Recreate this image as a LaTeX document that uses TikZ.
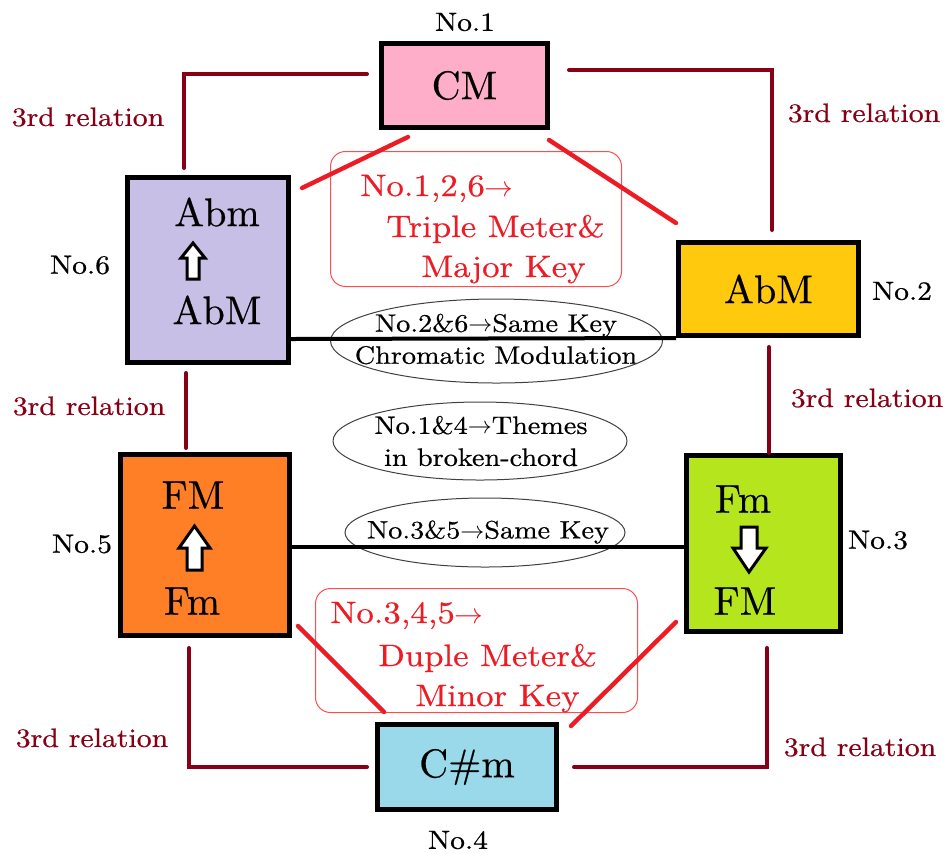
\documentclass[tikz,border=0pt]{standalone}
\usepackage{fontspec}
\newfontfamily\wideserif{lmroman10-regular.otf}[FakeStretch=1.12, FakeBold=0.6]
\newfontfamily\keyserif{lmroman10-regular.otf}[FakeBold=0.5]
\usetikzlibrary{calc}
\definecolor{thirdred}{HTML}{880015}
\definecolor{linkred}{HTML}{ED1C24}
\definecolor{keypink}{HTML}{FFAEC9}
\definecolor{keylilac}{HTML}{C8BFE7}
\definecolor{keygold}{HTML}{FFC90E}
\definecolor{keyorange}{HTML}{FF7F27}
\definecolor{keylime}{HTML}{B5E61D}
\definecolor{keyblue}{HTML}{99D9EA}
\begin{document}
\begin{tikzpicture}[
        x               = 0.5pt,
        y               = -0.5pt,
        key/.style      = {draw, line width=2.5pt, inner sep=0pt, font=\keyserif\fontsize{20}{24}\selectfont},
        keyname/.style  = {inner sep=0pt, font=\keyserif\fontsize{20}{24}\selectfont},
        number/.style   = {inner sep=0pt, font=\wideserif\fontsize{13.2}{16}\selectfont},
        relation/.style = {inner sep=0pt, text=thirdred, font=\wideserif\fontsize{13.3}{16}\selectfont},
        third/.style    = {draw=thirdred, line width=2pt, line cap=round},
        link/.style     = {draw=linkred, line width=2.2pt, line cap=round},
        samekey/.style  = {draw, line width=2pt},
        notebox/.style  = {draw=red!70, line width=0.5pt, rounded corners=7.5pt},
        note/.style     = {inner sep=0pt, anchor=base west, text=linkred, font=\wideserif\fontsize{15.5}{18}\selectfont},
        remark/.style   = {inner sep=0pt, align=center, font=\wideserif\fontsize{12.6}{16}\selectfont},
        ring/.style     = {draw=black!75, line width=0.5pt},
        turn/.style     = {draw, fill=white, line width=1.5pt, line join=miter},
    ]
    \useasboundingbox (0,0) rectangle (946,853);

    % keys
    \node[key, fill=keypink,   minimum width=83pt,   minimum height=42pt]   (cm)  at (464.5,85.5) {CM};
    \node[key, fill=keylilac,  minimum width=80.5pt, minimum height=92.5pt] (no6) at (208,270)    {};
    \node[key, fill=keygold,   minimum width=90pt,   minimum height=46.5pt] (no2) at (768.5,289)  {AbM};
    \node[key, fill=keyorange, minimum width=84.5pt, minimum height=90.5pt] (no5) at (205,545)    {};
    \node[key, fill=keylime,   minimum width=77pt,   minimum height=88pt]   (no3) at (763.5,543.5) {};
    \node[key, fill=keyblue,   minimum width=89.5pt, minimum height=42.5pt] (no4) at (467,767)    {C\#m};

    \node[keyname] (abminor) at (217,212) {Abm};
    \node[keyname] (abmajor) at (217,310) {AbM};
    \node[keyname] (fmajor5) at (193,495) {FM};
    \node[keyname] (fminor5) at (192,601) {Fm};
    \node[keyname] (fminor3) at (743,499) {Fm};
    \node[keyname] (fmajor3) at (745,601) {FM};

    \draw[turn] (193,243) -- (205,258) -- (199,258) -- (199,279) -- (187,279) -- (187,258) -- (181,258) -- cycle;
    \draw[turn] (194.5,526) -- (210,548) -- (202,548) -- (202,570) -- (187,570) -- (187,548) -- (179,548) -- cycle;
    \draw[turn] (749,572) -- (766,548) -- (757,548) -- (757,527) -- (741,527) -- (741,548) -- (733,548) -- cycle;

    \node[number] (num1) at (465,22)  {No.1};
    \node[number] (num2) at (902,291) {No.2};
    \node[number] (num3) at (878,540) {No.3};
    \node[number] (num4) at (458,840) {No.4};
    \node[number] (num5) at (82,544)  {No.5};
    \node[number] (num6) at (80,265)  {No.6};

    % 3rd relations
    \draw[third] ($(cm.west)+(-12,-11.5)$) -| ($(no6.north)+(-24,-7)$);
    \draw[third] ($(cm.east)+(19,-15.5)$) -| ($(no2.north)+(3.5,-10)$);
    \draw[third] ($(no6.south)+(-22,8)$) -- ($(no5.north)+(-19,-4)$);
    \draw[third] ($(no2.south)+(0.5,9)$) -- ($(no3.north)+(5.5,0)$);
    \draw[third] ($(no5.south)+(-16,10)$) |- ($(no4.west)+(-8,0)$);
    \draw[third] ($(no4.east)+(15,0)$) -| ($(no3.south)+(3.5,14)$);

    \node[relation] (rel61) at (88,117)  {3rd relation};
    \node[relation] (rel12) at (864,113) {3rd relation};
    \node[relation] (rel65) at (89,406)  {3rd relation};
    \node[relation] (rel23) at (867,398) {3rd relation};
    \node[relation] (rel54) at (92,738)  {3rd relation};
    \node[relation] (rel34) at (860,747) {3rd relation};

    % meter and mode
    \node[notebox, minimum width=145.5pt, minimum height=67.5pt] (triple) at (476,219)   {};
    \node[notebox, minimum width=161pt,   minimum height=62pt]   (duple)  at (476.5,650.5) {};
    \node[note] (triplea) at (360,196) {No.1,2,6$\rightarrow$};
    \node[note] (tripleb) at (386,237) {Triple Meter\&};
    \node[note] (triplec) at (421,277) {Major Key};
    \node[note] (duplea)  at (330,623) {No.3,4,5$\rightarrow$};
    \node[note] (dupleb)  at (378,666) {Duple Meter\&};
    \node[note] (duplec)  at (415,706) {Minor Key};

    \draw[link] ($(cm.south west)+(29,7)$)  -- ($(no6.north east)+(11,13)$);
    \draw[link] ($(cm.south east)+(-1,10)$) -- ($(no2.north west)+(0,-17)$);
    \draw[link] ($(no5.south east)+(6,-12)$) -- ($(no4.north west)+(9,-10)$);
    \draw[link] ($(no3.south west)+(-8,-12)$) -- ($(no4.north east)+(12,4)$);

    % remarks
    \node[remark] (chroma) at (496,339) {No.2\&6$\rightarrow$Same Key\\Chromatic Modulation};
    \node[remark] (themes) at (481,441) {No.1\&4$\rightarrow$Themes\\in broken-chord};
    \node[remark] (same35) at (488,532) {No.3\&5$\rightarrow$Same Key};
    \draw[ring] (496.5,341) ellipse [x radius=83pt, y radius=21pt];
    \draw[ring] (480,441) ellipse [x radius=73.5pt, y radius=19.5pt];
    \draw[ring] (485,532.5) ellipse [x radius=70pt, y radius=17.25pt];

    \draw[samekey] ($(no6.east)+(0,69)$) -- ($(no2.west)+(0,49)$);
    \draw[samekey] ($(no5.east)+(0,2)$) -- ($(no3.west)+(0,3.5)$);
\end{tikzpicture}
\end{document}
